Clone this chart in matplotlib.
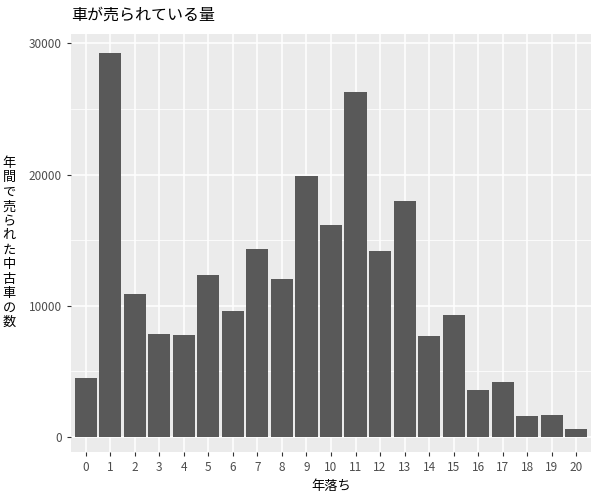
import matplotlib
matplotlib.use("Agg")
import matplotlib.pyplot as plt

plt.rcParams['font.family'] = ['Noto Sans CJK JP', 'DejaVu Sans']

years = list(range(21))
counts = [4500, 29270, 10850, 7800, 7720, 12370, 9550, 14280, 12000, 19850,
          16120, 26290, 14200, 17950, 7650, 9320, 3560, 4170, 1580, 1650, 590]
yticks = [0, 10000, 20000, 30000]

fig = plt.figure(figsize=(6, 5), dpi=100)
ax = fig.add_axes([71/600, 1-452/500, 520/600, 418/500])
ax.set_facecolor('#EBEBEB')

ax.bar(years, counts, width=0.9, color='#595959', zorder=3)

ax.set_xlim(-0.6, 20.6)
ax.set_ylim(-1170, 30720)
ax.set_xticks(years)
ax.set_xticklabels([str(y) for y in years])
ax.set_yticks(yticks)
ax.set_yticks([5000, 15000, 25000], minor=True)
ax.grid(which='major', color='white', linewidth=1.1, zorder=0)
ax.grid(which='minor', axis='y', color='white', linewidth=0.55, zorder=0)
ax.tick_params(which='minor', length=0)
ax.tick_params(which='major', length=3, color='#333333', labelcolor='#4D4D4D', labelsize=8.5)
for s in ax.spines.values():
    s.set_visible(False)

ax.set_xlabel('年落ち', fontsize=9.5, color='black')
ylab = '年間で売られた中古車の数'
ax.set_ylabel('\n'.join(ylab), fontsize=9.5, rotation=0, va='center', labelpad=14,
              linespacing=1.15)
fig.text(71/600, 1-15/500, '車が売られている量', fontsize=11.5, va='center', ha='left')

fig.savefig('out.png', dpi=100)
